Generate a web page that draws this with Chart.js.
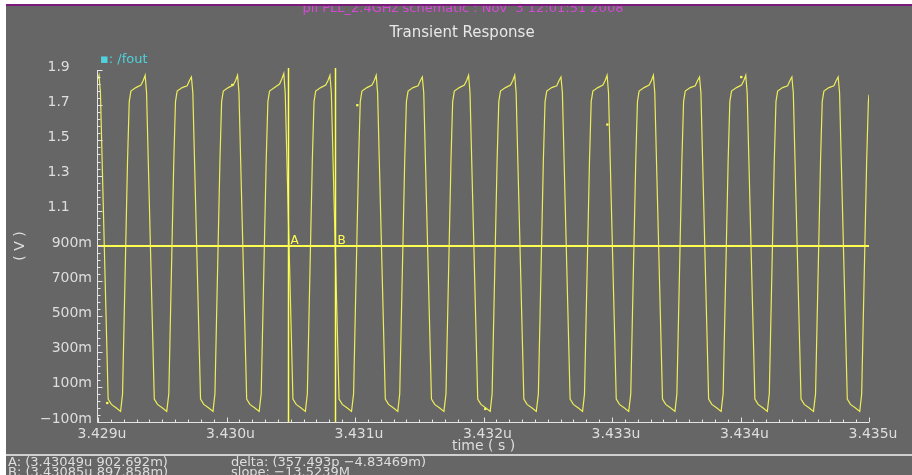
<!DOCTYPE html>
<html>
<head>
<meta charset="utf-8">
<script src="https://cdn.jsdelivr.net/npm/chart.js@4.4.1/dist/chart.umd.min.js"></script>
<style>
  html, body { margin: 0; padding: 0; background: #ffffff; }
  #wrap { width: 912px; height: 475px; }
</style>
</head>
<body>
<div id="wrap"><canvas id="tranChart" width="912" height="475"></canvas></div>
<script>
// /fout transient, time in ns after 3.429us, voltage in V
const tNs = [
  0.000, 0.008, 0.019, 0.032, 0.079, 0.104, 0.143, 0.176,
  0.191, 0.230, 0.243, 0.256, 0.295, 0.334, 0.352, 0.367, 0.378, 0.391, 0.438, 0.463, 0.502, 0.535,
  0.551, 0.590, 0.603, 0.616, 0.655, 0.694, 0.712, 0.727, 0.738, 0.751, 0.798, 0.823, 0.862, 0.895,
  0.910, 0.949, 0.962, 0.975, 1.014, 1.053, 1.071, 1.086, 1.097, 1.110, 1.157, 1.182, 1.221, 1.254,
  1.270, 1.309, 1.322, 1.335, 1.374, 1.413, 1.431, 1.446, 1.457, 1.470, 1.517, 1.542, 1.581, 1.614,
  1.629, 1.668, 1.681, 1.694, 1.733, 1.772, 1.790, 1.805, 1.816, 1.829, 1.876, 1.901, 1.940, 1.973,
  1.989, 2.028, 2.041, 2.054, 2.093, 2.132, 2.150, 2.165, 2.176, 2.189, 2.236, 2.261, 2.300, 2.333,
  2.348, 2.387, 2.400, 2.413, 2.452, 2.491, 2.509, 2.524, 2.535, 2.548, 2.595, 2.620, 2.659, 2.692,
  2.708, 2.747, 2.760, 2.773, 2.812, 2.851, 2.869, 2.884, 2.895, 2.908, 2.955, 2.980, 3.019, 3.052,
  3.067, 3.106, 3.119, 3.132, 3.171, 3.210, 3.228, 3.243, 3.254, 3.267, 3.314, 3.339, 3.378, 3.411,
  3.427, 3.466, 3.479, 3.492, 3.531, 3.570, 3.588, 3.603, 3.614, 3.627, 3.674, 3.699, 3.738, 3.771,
  3.786, 3.825, 3.838, 3.851, 3.890, 3.929, 3.947, 3.962, 3.973, 3.986, 4.033, 4.058, 4.097, 4.130,
  4.146, 4.185, 4.198, 4.211, 4.250, 4.289, 4.307, 4.322, 4.333, 4.346, 4.393, 4.418, 4.457, 4.490,
  4.505, 4.544, 4.557, 4.570, 4.609, 4.648, 4.666, 4.681, 4.692, 4.705, 4.752, 4.777, 4.816, 4.849,
  4.865, 4.904, 4.917, 4.930, 4.969, 5.008, 5.026, 5.041, 5.052, 5.065, 5.112, 5.137, 5.176, 5.209,
  5.224, 5.263, 5.276, 5.289, 5.328, 5.367, 5.385, 5.400, 5.411, 5.424, 5.471, 5.496, 5.535, 5.568,
  5.584, 5.623, 5.636, 5.649, 5.688, 5.727, 5.745, 5.760, 5.771, 5.784, 5.831, 5.856, 5.895, 5.928,
  5.943, 5.982, 5.995, 6.000
];
const vOut = [
  1.85, 1.87, 1.77, 1.39, 0.03, 0.00, -0.02, -0.04,
  0.06, 1.39, 1.72, 1.78, 1.80, 1.815, 1.84, 1.87, 1.77, 1.39, 0.03, 0.00, -0.02, -0.04,
  0.06, 1.39, 1.72, 1.78, 1.80, 1.81, 1.84, 1.86, 1.77, 1.39, 0.03, 0.00, -0.02, -0.04,
  0.06, 1.39, 1.72, 1.78, 1.80, 1.815, 1.84, 1.87, 1.77, 1.39, 0.03, 0.00, -0.02, -0.04,
  0.06, 1.39, 1.72, 1.78, 1.80, 1.82, 1.85, 1.88, 1.77, 1.39, 0.03, 0.00, -0.02, -0.04,
  0.06, 1.39, 1.72, 1.78, 1.80, 1.815, 1.84, 1.87, 1.77, 1.39, 0.03, 0.00, -0.02, -0.04,
  0.06, 1.39, 1.72, 1.78, 1.80, 1.815, 1.84, 1.87, 1.77, 1.39, 0.03, 0.00, -0.02, -0.04,
  0.06, 1.39, 1.72, 1.78, 1.80, 1.81, 1.84, 1.86, 1.77, 1.39, 0.03, 0.00, -0.02, -0.04,
  0.06, 1.39, 1.72, 1.78, 1.80, 1.815, 1.84, 1.87, 1.77, 1.39, 0.03, 0.00, -0.02, -0.04,
  0.06, 1.39, 1.72, 1.78, 1.80, 1.815, 1.84, 1.87, 1.77, 1.39, 0.03, 0.00, -0.02, -0.04,
  0.06, 1.39, 1.72, 1.78, 1.80, 1.81, 1.84, 1.86, 1.77, 1.39, 0.03, 0.00, -0.02, -0.04,
  0.06, 1.39, 1.72, 1.78, 1.80, 1.815, 1.84, 1.87, 1.77, 1.39, 0.03, 0.00, -0.02, -0.04,
  0.06, 1.39, 1.72, 1.78, 1.80, 1.815, 1.84, 1.87, 1.77, 1.39, 0.03, 0.00, -0.02, -0.04,
  0.06, 1.39, 1.72, 1.78, 1.80, 1.81, 1.84, 1.86, 1.77, 1.39, 0.03, 0.00, -0.02, -0.04,
  0.06, 1.39, 1.72, 1.78, 1.80, 1.815, 1.84, 1.87, 1.77, 1.39, 0.03, 0.00, -0.02, -0.04,
  0.06, 1.39, 1.72, 1.78, 1.80, 1.81, 1.84, 1.86, 1.77, 1.39, 0.03, 0.00, -0.02, -0.04,
  0.06, 1.39, 1.72, 1.78, 1.80, 1.81, 1.84, 1.86, 1.77, 1.39, 0.03, 0.00, -0.02, -0.04,
  0.06, 1.39, 1.72, 1.76
];

// little trace markers seen on the waveform
const markT = [0.072, 1.045, 2.018, 3.014, 3.964, 5.006];
const markV = [0.008, 1.815, 1.70, -0.026, 1.59, 1.86];

const xTickValues = [0, 1, 2, 3, 4, 5, 6];
const xTickLabels = ['3.429u', '3.430u', '3.431u', '3.432u', '3.433u', '3.434u', '3.435u'];
const yTickValues = [1.9, 1.7, 1.5, 1.3, 1.1, 0.9, 0.7, 0.5, 0.3, 0.1, -0.1];
const yTickLabels = ['1.9', '1.7', '1.5', '1.3', '1.1', '900m', '700m', '500m', '300m', '100m', '\u2212100m'];

// cursors
const cursorNames = ['A', 'B'];
const cursorT = [1.49, 1.85];
const cursorLevel = 0.9;

const readout = [
  ['A: (3.43049u 902.692m)', 'delta: (357.493p \u22124.83469m)'],
  ['B: (3.43085u 897.858m)', 'slope: \u221213.5239M']
];

const FONT = 'DejaVu Sans';
const BG = '#666666';
const TEXT = '#dedede';
const TRACE = '#eded58';

const scopePlugin = {
  id: 'scope',
  beforeDraw(chart) {
    const ctx = chart.ctx;
    ctx.save();
    ctx.fillStyle = '#ffffff';
    ctx.fillRect(0, 0, chart.width, chart.height);
    ctx.fillStyle = BG;
    ctx.fillRect(6, 6, chart.width - 6, chart.height - 6);

    // header (top line is cut off by the window)
    ctx.fillStyle = '#d848d8';
    ctx.font = '13px "' + FONT + '"';
    ctx.textAlign = 'center';
    ctx.textBaseline = 'alphabetic';
    ctx.fillText('pll PLL_2.4GHz schematic : Nov  3 12:01:51 2008', 463, 12);
    ctx.fillStyle = '#ffffff';
    ctx.fillRect(0, 0, chart.width, 4);
    ctx.fillStyle = '#7a1a7a';
    ctx.fillRect(6, 4, chart.width - 6, 2);

    ctx.fillStyle = '#e8e8e8';
    ctx.font = '15px "' + FONT + '"';
    ctx.fillText('Transient Response', 462, 37);

    ctx.fillStyle = '#4fd2dc';
    ctx.font = '13px "' + FONT + '"';
    ctx.textAlign = 'left';
    ctx.fillText('\u25AA: /fout', 100, 63);

    // separator above the readout
    ctx.fillStyle = '#d0d0d0';
    ctx.fillRect(6, 454, chart.width - 6, 2);
    ctx.restore();
  },
  afterDatasetsDraw(chart) {
    const ctx = chart.ctx;
    const xs = chart.scales.x, ys = chart.scales.y;
    const area = chart.chartArea;
    ctx.save();
    ctx.strokeStyle = '#ffff50';
    ctx.lineWidth = 2;
    const yl = Math.round(ys.getPixelForValue(cursorLevel));
    ctx.beginPath();
    ctx.moveTo(area.left, yl);
    ctx.lineTo(area.right, yl);
    ctx.stroke();
    ctx.lineWidth = 1.5;
    ctx.fillStyle = '#ffff50';
    ctx.font = '12px "' + FONT + '"';
    ctx.textAlign = 'left';
    ctx.textBaseline = 'alphabetic';
    cursorT.forEach((t, i) => {
      const x = Math.round(xs.getPixelForValue(t)) - 0.5;
      ctx.beginPath();
      ctx.moveTo(x, area.top - 2);
      ctx.lineTo(x, area.bottom);
      ctx.stroke();
      ctx.fillText(cursorNames[i], x + 2, yl - 2);
    });
    ctx.restore();
  },
  afterDraw(chart) {
    const ctx = chart.ctx;
    const xs = chart.scales.x, ys = chart.scales.y;
    const area = chart.chartArea;
    ctx.save();
    ctx.strokeStyle = '#e4e4e4';
    ctx.lineWidth = 1;
    const ax = Math.round(area.left) - 0.5;
    const ay = Math.round(area.bottom) + 0.5;
    ctx.beginPath();
    ctx.moveTo(ax, area.top);
    ctx.lineTo(ax, ay);
    ctx.lineTo(area.right, ay);
    // y ticks: 5 per labelled step, pointing inward
    for (let i = 0; i <= 50; i++) {
      const v = -0.1 + i * 0.04;
      const y = Math.round(ys.getPixelForValue(v)) + 0.5;
      ctx.moveTo(ax, y);
      ctx.lineTo(ax + (i % 5 === 0 ? 5 : 3), y);
    }
    // x ticks: 10 per ns
    for (let i = 0; i <= 60; i++) {
      const x = Math.round(xs.getPixelForValue(i / 10)) + 0.5;
      ctx.moveTo(x, ay);
      ctx.lineTo(x, ay - (i % 10 === 0 ? 5 : 3));
    }
    ctx.stroke();

    // cursor readout
    ctx.fillStyle = TEXT;
    ctx.font = '13px "' + FONT + '"';
    ctx.textAlign = 'left';
    ctx.textBaseline = 'alphabetic';
    readout.forEach((row, r) => {
      ctx.fillText(row[0], 8, 466 + r * 10);
      ctx.fillText(row[1], 231, 466 + r * 10);
    });
    ctx.restore();
  }
};

const fout = tNs.map((t, i) => ({ x: t, y: vOut[i] }));
const marks = markT.map((t, i) => ({ x: t, y: markV[i] }));

new Chart(document.getElementById('tranChart'), {
  type: 'line',
  data: {
    datasets: [
      {
        label: '/fout',
        data: fout,
        borderColor: TRACE,
        borderWidth: 1.2,
        pointRadius: 0,
        tension: 0,
        fill: false
      },
      {
        type: 'scatter',
        label: 'markers',
        data: marks,
        pointStyle: 'rect',
        pointRadius: 1.6,
        backgroundColor: '#ffff66',
        borderWidth: 0
      }
    ]
  },
  options: {
    responsive: false,
    animation: false,
    events: [],
    layout: { padding: { top: 70, right: 43, bottom: 20, left: 0 } },
    plugins: {
      legend: { display: false },
      tooltip: { enabled: false }
    },
    scales: {
      x: {
        type: 'linear',
        min: 0,
        max: 6,
        afterFit: s => { s.height = 33; },
        afterBuildTicks: s => { s.ticks = xTickValues.map(v => ({ value: v })); },
        grid: { display: false, drawTicks: false },
        border: { display: false },
        ticks: {
          color: TEXT,
          font: { family: FONT, size: 14 },
          padding: 4,
          labelOffset: 4,
          maxRotation: 0,
          autoSkip: false,
          callback: (v, i) => xTickLabels[i]
        },
        title: {
          display: true,
          text: 'time ( s )',
          color: TEXT,
          font: { family: FONT, size: 14 },
          padding: { top: 0, bottom: 0 }
        }
      },
      y: {
        min: -0.1,
        max: 1.9,
        afterFit: s => { s.width = 98; },
        afterBuildTicks: s => { s.ticks = yTickValues.map(v => ({ value: v })); },
        grid: { display: false, drawTicks: false },
        border: { display: false },
        ticks: {
          color: TEXT,
          font: { family: FONT, size: 14 },
          padding: 6,
          labelOffset: -3,
          autoSkip: false,
          // the plain volt labels sit further left than the milli ones
          callback: (v, i) => yTickLabels[i] + (yTickLabels[i].endsWith('m') ? '' : '     ')
        },
        title: {
          display: true,
          text: '( V )',
          color: TEXT,
          font: { family: FONT, size: 14 },
          padding: { top: 12, bottom: 0 }
        }
      }
    }
  },
  plugins: [scopePlugin]
});
</script>
</body>
</html>
